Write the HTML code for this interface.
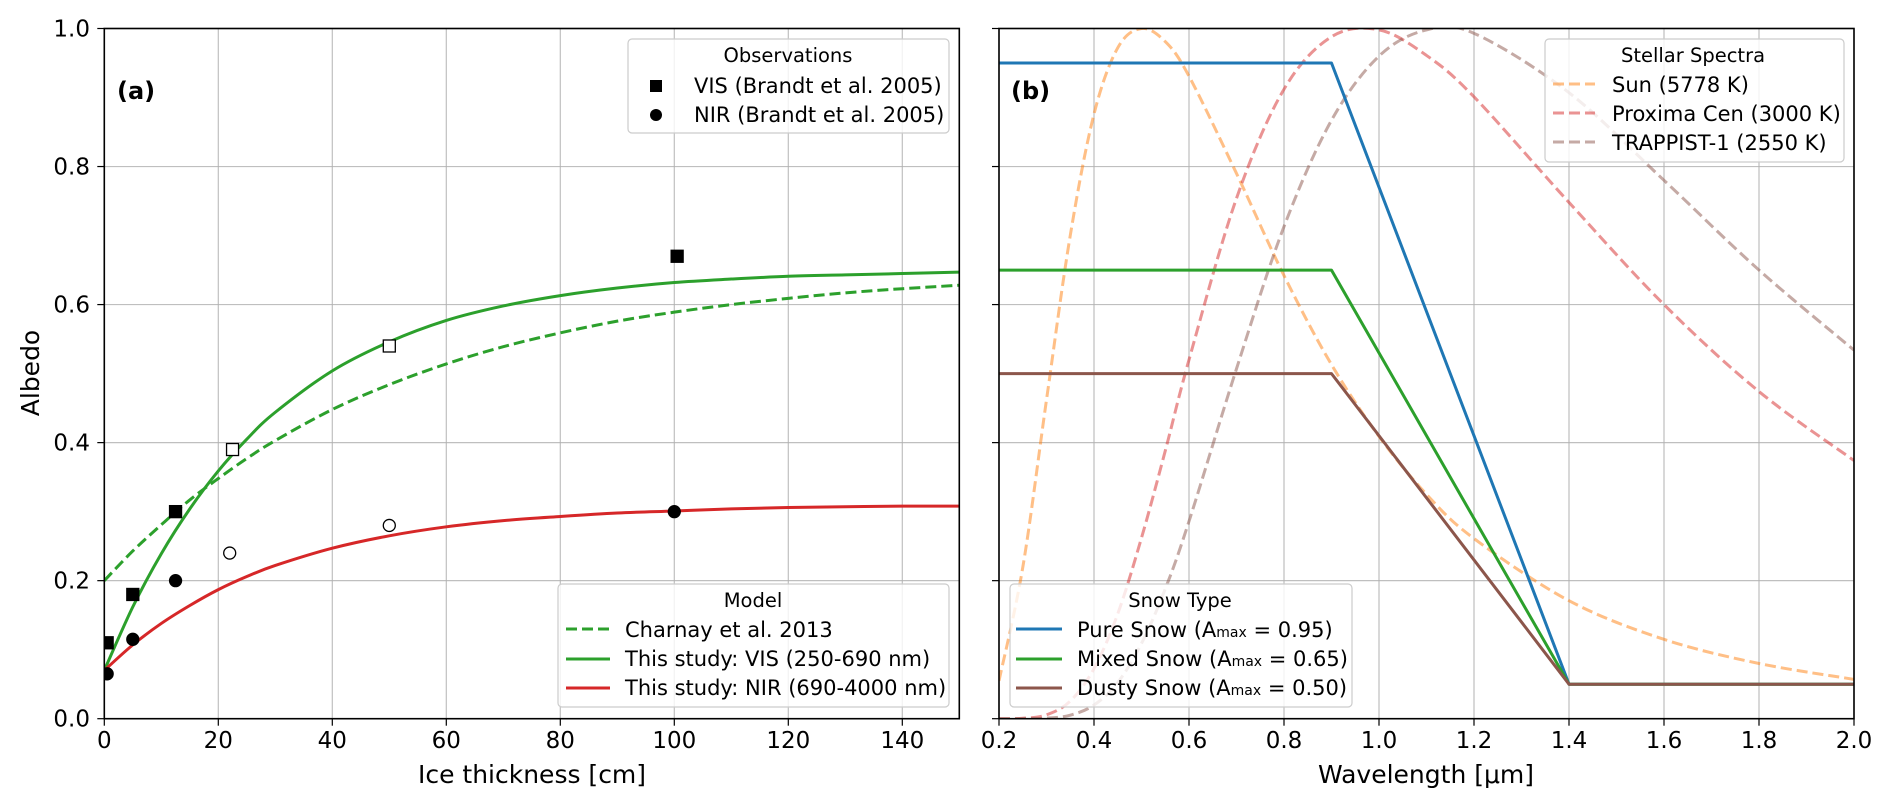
<!DOCTYPE html>
<html><head><meta charset="utf-8"><style>
body{margin:0;background:#fff}
svg{display:block;font-family:"DejaVu Sans","Liberation Sans",sans-serif}
</style></head><body>
<svg id="fig" width="1892" height="808" viewBox="0 0 1892 808" xmlns="http://www.w3.org/2000/svg"></svg>
<script>
// ---- Panel (a) data ----
const thick = [0,5,10,15,20,25,30,40,50,60,70,80,90,100,110,120,130,140,150];
const charnay = [.2,.243,.281,.317,.348,.377,.403,.448,.484,.514,.539,.559,.576,.589,.600,.609,.617,.623,.628];
const visModel = [.07,.162,.239,.304,.359,.405,.444,.504,.546,.577,.598,.613,.624,.632,.637,.641,.643,.645,.647];
const nirModel = [.07,.107,.138,.164,.187,.206,.222,.247,.265,.278,.287,.293,.298,.301,.304,.306,.307,.308,.308];
const visObsX = [0.5,5,12.5,100.5];
const visObsY = [0.11,0.18,0.30,0.67];
const visOpenX = [22.5,50];
const visOpenY = [0.39,0.54];
const nirObsX = [0.5,5,12.5,100];
const nirObsY = [0.065,0.115,0.20,0.30];
const nirOpenX = [22,50];
const nirOpenY = [0.24,0.28];
const xTicksA = [0,20,40,60,80,100,120,140];
const yTicks = [0,0.2,0.4,0.6,0.8,1.0];
// ---- Panel (b) data ----
const wl = [0.2,0.25,0.3,0.35,0.4,0.45,0.5,0.55,0.6,0.7,0.8,0.9,1.0,1.1,1.2,1.4,1.6,1.8,2.0];
const sun = [.055,.219,.462,.700,.876,.972,1.0,.981,.931,.790,.642,.513,.409,.325,.261,.171,.115,.080,.057];
const proxima = [0,.0006,.0056,.0256,.0726,.152,.262,.388,.520,.754,.912,.988,.998,.961,.901,.748,.600,.474,.374];
const trappist = [0,0,.00075,.0051,.0198,.0524,.109,.188,.286,.507,.713,.867,.960,.998,.993,.907,.780,.650,.534];
const snowWl = [0.2,0.9,1.4,2.0];
const pureSnow = [0.95,0.95,0.05,0.05];
const mixedSnow = [0.65,0.65,0.05,0.05];
const dustySnow = [0.5,0.5,0.05,0.05];
const xTicksB = [0.2,0.4,0.6,0.8,1.0,1.2,1.4,1.6,1.8,2.0];

const NS="http://www.w3.org/2000/svg";
const svg=document.getElementById('fig');
function mk(tag,attrs,parent){const e=document.createElementNS(NS,tag);for(const k in attrs)e.setAttribute(k,attrs[k]);(parent||svg).appendChild(e);return e;}
const TOP=28.5,BOT=718.7;
const ya=v=>BOT-(BOT-TOP)*v;
const A={l:104.3,r:959.3,x0:0,x1:150};
const B={l:999,r:1854,x0:0.2,x1:2.0};
const xa=v=>A.l+(A.r-A.l)*(v-A.x0)/(A.x1-A.x0);
const xb=v=>B.l+(B.r-B.l)*(v-B.x0)/(B.x1-B.x0);

function smooth(xs,ys,fx){
  const p=xs.map((x,i)=>[fx(x),ya(ys[i])]);
  let d='M'+p[0][0].toFixed(2)+','+p[0][1].toFixed(2);
  for(let i=0;i<p.length-1;i++){
    const p0=p[Math.max(0,i-1)],p1=p[i],p2=p[i+1],p3=p[Math.min(p.length-1,i+2)];
    const c1x=p1[0]+(p2[0]-p0[0])/6,c1y=p1[1]+(p2[1]-p0[1])/6;
    const c2x=p2[0]-(p3[0]-p1[0])/6,c2y=p2[1]-(p3[1]-p1[1])/6;
    d+=' C'+c1x.toFixed(2)+','+c1y.toFixed(2)+' '+c2x.toFixed(2)+','+c2y.toFixed(2)+' '+p2[0].toFixed(2)+','+p2[1].toFixed(2);
  }
  return d;
}
function poly(xs,ys,fx){return xs.map((x,i)=>(i?'L':'M')+fx(x).toFixed(2)+','+ya(ys[i]).toFixed(2)).join(' ');}

function axes(P,fx,xt,fmt,name){
  const g=mk('g',{});
  
  
  xt.forEach(t=>{mk('line',{x1:fx(t),x2:fx(t),y1:TOP,y2:BOT,stroke:'#b0b0b0','stroke-width':1.2,opacity:0.8},g);});
  yTicks.forEach(t=>{mk('line',{x1:P.l,x2:P.r,y1:ya(t),y2:ya(t),stroke:'#b0b0b0','stroke-width':1.2,opacity:0.8},g);});
  const tk=mk('g',{});
  
  
  xt.forEach((t,i)=>{
    mk('line',{x1:fx(t),x2:fx(t),y1:BOT,y2:BOT+7,stroke:'#000','stroke-width':1.2},tk);
    const tx=mk('text',{x:fx(t),y:748,'font-size':23,'text-anchor':'middle',fill:'#000'},tk);
    tx.textContent=fmt(t);
  });
  const ty=mk('g',{});
  
  
  yTicks.forEach(t=>{
    mk('line',{x1:P.l-7,x2:P.l,y1:ya(t),y2:ya(t),stroke:'#000','stroke-width':1.2},ty);
    if(name==='panel-a'){const tx=mk('text',{x:90,y:ya(t)+8,'font-size':23,'text-anchor':'end',fill:'#000'},ty);tx.textContent=t.toFixed(1);}
  });
}
axes(A,xa,xTicksA,t=>String(t),'panel-a');
axes(B,xb,xTicksB,t=>t.toFixed(1),'panel-b');

// clip paths
const defs=mk('defs',{});
const ca=mk('clipPath',{id:'ca'},defs);mk('rect',{x:A.l,y:TOP,width:A.r-A.l,height:BOT-TOP},ca);
const cb=mk('clipPath',{id:'cb'},defs);mk('rect',{x:B.l,y:TOP,width:B.r-B.l,height:BOT-TOP},cb);

// Panel a series
const ga=mk('g',{'clip-path':'url(#ca)'});
let e;
e=mk('path',{d:smooth(thick,charnay,xa),fill:'none',stroke:'#2ca02c','stroke-width':3,'stroke-dasharray':'11,5'},ga);


e=mk('path',{d:smooth(thick,visModel,xa),fill:'none',stroke:'#2ca02c','stroke-width':3},ga);


e=mk('path',{d:smooth(thick,nirModel,xa),fill:'none',stroke:'#d62728','stroke-width':3},ga);


function sq(x,y,fill,name){const s=12;const r=mk('rect',{x:x-s/2,y:y-s/2,width:s,height:s,fill:fill,stroke:'#000','stroke-width':1.3},ga);}
function ci(x,y,fill,name){const c=mk('circle',{cx:x,cy:y,r:6,fill:fill,stroke:'#000','stroke-width':1.3},ga);}
visObsX.forEach((x,i)=>sq(xa(x),ya(visObsY[i]),'#000','vis-obs-point'));
visOpenX.forEach((x,i)=>sq(xa(x),ya(visOpenY[i]),'#fff','vis-obs-open-point'));
nirObsX.forEach((x,i)=>ci(xa(x),ya(nirObsY[i]),'#000','nir-obs-point'));
nirOpenX.forEach((x,i)=>ci(xa(x),ya(nirOpenY[i]),'#fff','nir-obs-open-point'));

// Panel b series
const gb=mk('g',{'clip-path':'url(#cb)'});
[[sun,'#ff7f0e','sun-spectrum'],[proxima,'#d62728','proxima-spectrum'],[trappist,'#8c564b','trappist-spectrum']].forEach(s=>{
  const p=mk('path',{d:smooth(wl,s[0],xb),fill:'none',stroke:s[1],'stroke-width':3,'stroke-dasharray':'11,5',opacity:0.5},gb);
  
  
});
[[pureSnow,'#1f77b4','pure-snow-line'],[mixedSnow,'#2ca02c','mixed-snow-line'],[dustySnow,'#8c564b','dusty-snow-line']].forEach(s=>{
  const p=mk('path',{d:poly(snowWl,s[0],xb),fill:'none',stroke:s[1],'stroke-width':3,'stroke-linejoin':'round'},gb);
  
  
});

// frames
[[A,'panel-a-frame'],[B,'panel-b-frame']].forEach(f=>{
  const r=mk('rect',{x:f[0].l,y:TOP,width:f[0].r-f[0].l,height:BOT-TOP,fill:'none',stroke:'#000','stroke-width':1.6});
  
  
});
</script>
<!-- static labels & legends -->
<svg width="1892" height="808" style="position:absolute;left:0;top:0;font-family:'DejaVu Sans','Liberation Sans',sans-serif">
  <text x="117" y="99" font-size="24" font-weight="bold">(a)</text>
  <text x="1011" y="99" font-size="24" font-weight="bold">(b)</text>
  <text transform="translate(39,373) rotate(-90)" font-size="25" text-anchor="middle">Albedo</text>
  <text x="532" y="783" font-size="25" text-anchor="middle">Ice thickness [cm]</text>
  <text x="1426" y="783" font-size="25" text-anchor="middle">Wavelength [μm]</text>

  <g>
    <rect x="628" y="39" width="321" height="94" rx="4" fill="#fff" fill-opacity="0.8" stroke="#ccc" stroke-width="1.2"/>
    <text x="788" y="62" font-size="19.5" text-anchor="middle">Observations</text>
    <rect x="650" y="80" width="12" height="12" fill="#000"/>
    <text x="694" y="93" font-size="21">VIS (Brandt et al. 2005)</text>
    <circle cx="656" cy="115" r="6" fill="#000"/>
    <text x="694" y="122" font-size="21">NIR (Brandt et al. 2005)</text>
  </g>
  <g>
    <rect x="558" y="584" width="391" height="123" rx="4" fill="#fff" fill-opacity="0.8" stroke="#ccc" stroke-width="1.2"/>
    <text x="753" y="607" font-size="19.5" text-anchor="middle">Model</text>
    <line x1="566" x2="610" y1="629" y2="629" stroke="#2ca02c" stroke-width="3" stroke-dasharray="11,5"/>
    <text x="625" y="637" font-size="21">Charnay et al. 2013</text>
    <line x1="566" x2="610" y1="659" y2="659" stroke="#2ca02c" stroke-width="3"/>
    <text x="625" y="666" font-size="21">This study: VIS (250-690 nm)</text>
    <line x1="566" x2="610" y1="688" y2="688" stroke="#d62728" stroke-width="3"/>
    <text x="625" y="695" font-size="21">This study: NIR (690-4000 nm)</text>
  </g>
  <g>
    <rect x="1545" y="39" width="299" height="123" rx="4" fill="#fff" fill-opacity="0.8" stroke="#ccc" stroke-width="1.2"/>
    <text x="1693" y="62" font-size="19.5" text-anchor="middle">Stellar Spectra</text>
    <line x1="1553" x2="1595" y1="84" y2="84" stroke="#ff7f0e" stroke-opacity="0.5" stroke-width="3" stroke-dasharray="11,5"/>
    <text x="1612" y="92" font-size="21">Sun (5778 K)</text>
    <line x1="1553" x2="1595" y1="113" y2="113" stroke="#d62728" stroke-opacity="0.5" stroke-width="3" stroke-dasharray="11,5"/>
    <text x="1612" y="121" font-size="21">Proxima Cen (3000 K)</text>
    <line x1="1553" x2="1595" y1="142" y2="142" stroke="#8c564b" stroke-opacity="0.5" stroke-width="3" stroke-dasharray="11,5"/>
    <text x="1612" y="150" font-size="21">TRAPPIST-1 (2550 K)</text>
  </g>
  <g>
    <rect x="1010" y="584" width="342" height="123" rx="4" fill="#fff" fill-opacity="0.8" stroke="#ccc" stroke-width="1.2"/>
    <text x="1180" y="607" font-size="19.5" text-anchor="middle">Snow Type</text>
    <line x1="1016" x2="1062" y1="629" y2="629" stroke="#1f77b4" stroke-width="3"/>
    <text x="1077" y="637" font-size="21">Pure Snow (A<tspan font-size="14">max</tspan> = 0.95)</text>
    <line x1="1016" x2="1062" y1="659" y2="659" stroke="#2ca02c" stroke-width="3"/>
    <text x="1077" y="666" font-size="21">Mixed Snow (A<tspan font-size="14">max</tspan> = 0.65)</text>
    <line x1="1016" x2="1062" y1="688" y2="688" stroke="#8c564b" stroke-width="3"/>
    <text x="1077" y="695" font-size="21">Dusty Snow (A<tspan font-size="14">max</tspan> = 0.50)</text>
  </g>
</svg>
</body></html>
